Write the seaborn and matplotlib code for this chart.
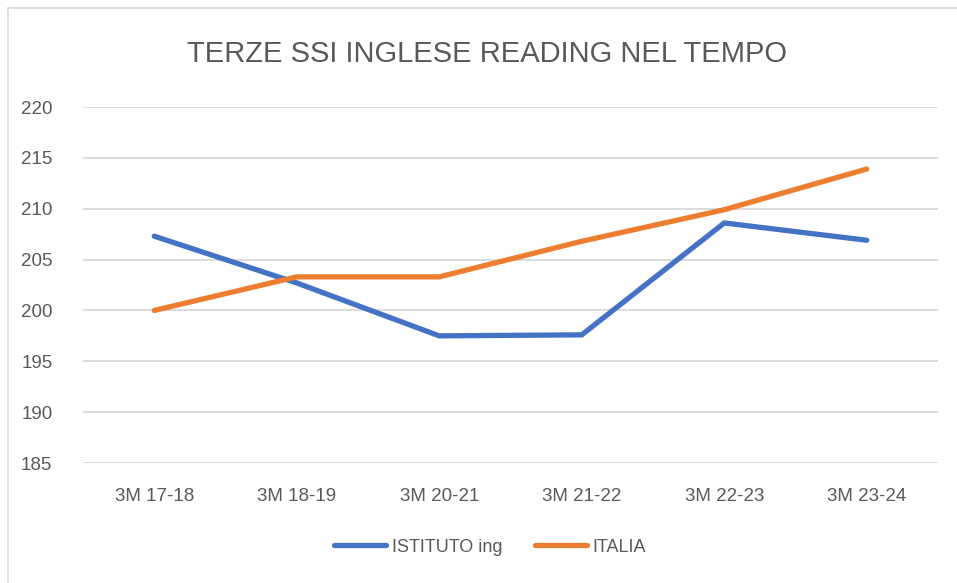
import matplotlib
matplotlib.use("Agg")
import matplotlib.pyplot as plt
import seaborn as sns
import pandas as pd
from matplotlib.lines import Line2D

categories = ["3M 17-18", "3M 18-19", "3M 20-21", "3M 21-22", "3M 22-23", "3M 23-24"]
istituto = [207.3, 202.7, 197.5, 197.6, 208.6, 206.9]
italia = [200.0, 203.3, 203.3, 206.8, 209.9, 213.9]
series_names = ["ISTITUTO ing", "ITALIA"]
yticks = [185, 190, 195, 200, 205, 210, 215, 220]
title = "TERZE SSI INGLESE READING NEL TEMPO"

sns.set_theme(style="white")
plt.rcParams['font.family'] = ['Liberation Sans', 'DejaVu Sans']

df = pd.DataFrame({
    "cat": categories * 2,
    "x": list(range(len(categories))) * 2,
    "val": istituto + italia,
    "serie": [series_names[0]] * len(categories) + [series_names[1]] * len(categories),
})

fig = plt.figure(figsize=(9.57, 5.83), dpi=100)
ax = fig.add_axes([83/957, 1-463/583, (938-83)/957, (463-107)/583])
palette = {series_names[0]: "#4472C4", series_names[1]: "#ED7D31"}
sns.lineplot(data=df, x="x", y="val", hue="serie", palette=palette, linewidth=3.8,
             ax=ax, legend=False, solid_capstyle="round", solid_joinstyle="miter")

ax.set_xlim(-0.5, len(categories) - 0.5)
ax.set_ylim(185, 220)
ax.set_yticks(yticks)
ax.set_yticklabels([str(t) for t in yticks])
ax.set_xticks(range(len(categories)))
ax.set_xticklabels(categories)
ax.set_xlabel("")
ax.set_ylabel("")
for s in ax.spines.values():
    s.set_visible(False)
ax.grid(False)
for t in yticks:
    ax.axhline(t, color="#D9D9D9", linewidth=1.3, zorder=0)
ax.tick_params(axis="both", length=0, labelsize=13.5, colors="#595959")
ax.tick_params(axis="y", pad=22)
ax.tick_params(axis="x", pad=18)

fig.text(487/957, 1-54/583, title, ha="center", va="center", fontsize=21, color="#595959")

handles = [Line2D([0], [0], color=palette[n], linewidth=3.8, solid_capstyle="round") for n in series_names]
fig.legend(handles, series_names, loc="center", bbox_to_anchor=(490/957, 1-547/583), ncol=2,
           frameon=False, fontsize=13, handlelength=2.9, handletextpad=0.3, columnspacing=1.8,
           labelcolor="#595959")

# chart frame (left and top edges visible)
fig.add_artist(Line2D([8/957, 8/957], [0, 1-8/583], transform=fig.transFigure, color="#D9D9D9", linewidth=1.2))
fig.add_artist(Line2D([8/957, 1], [1-8/583, 1-8/583], transform=fig.transFigure, color="#D9D9D9", linewidth=1.2))

fig.savefig("out.png", dpi=100)
